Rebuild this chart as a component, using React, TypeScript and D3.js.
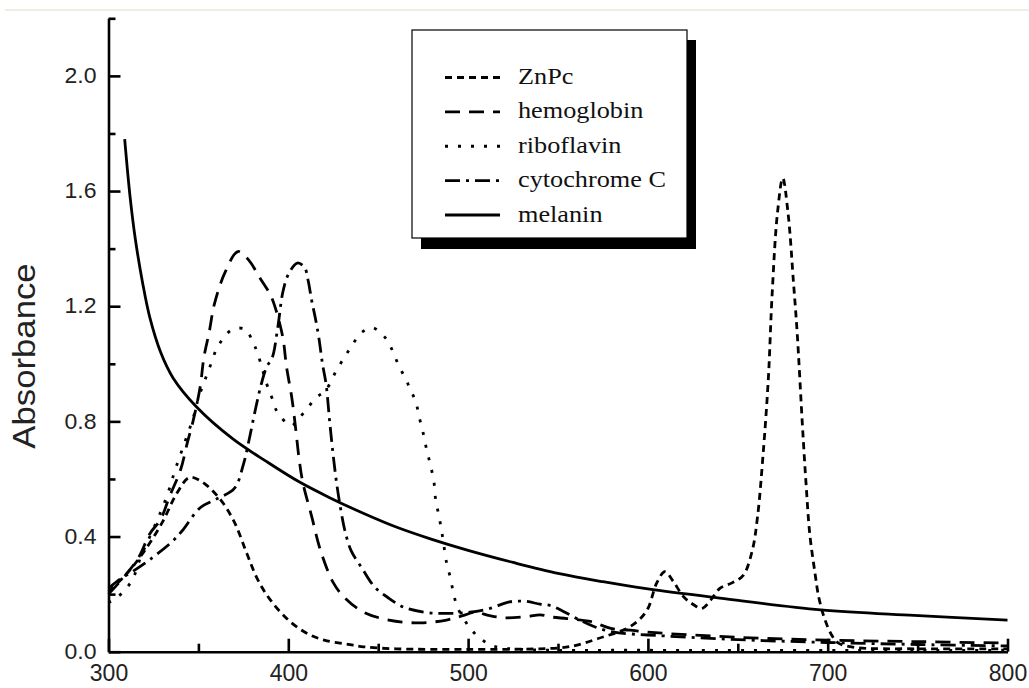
import { useEffect, useRef } from 'react';
import * as d3 from 'd3';

const W = 1029;
const H = 688;

// axis ticks
const X_TICKS = [300, 400, 500, 600, 700, 800];
const X_MINOR = [350, 450, 550, 650, 750];
const Y_TICKS = [0, 0.4, 0.8, 1.2, 1.6, 2.0];
const Y_MINOR = [0.2, 0.6, 1.0, 1.4, 1.8, 2.2];

const SERIES_NAMES = ['ZnPc', 'hemoglobin', 'riboflavin', 'cytochrome C', 'melanin'];

// ZnPc
const ZNPC_NM = [300, 310, 320, 330, 338, 345, 352, 362, 370, 377, 383, 390, 400, 410, 420, 432, 442, 460, 500, 540, 552, 560, 572, 588, 595, 600, 605, 609.5, 614, 620, 625, 630, 635, 640, 647, 653, 658, 661, 664, 667, 669, 672, 675, 678, 681, 683, 686, 688, 690, 693, 695, 698, 702, 706, 715, 750, 800];
const ZNPC_ABS = [0.21, 0.27, 0.35, 0.45, 0.55, 0.605, 0.59, 0.53, 0.45, 0.34, 0.25, 0.18, 0.11, 0.065, 0.04, 0.027, 0.017, 0.01, 0.008, 0.01, 0.014, 0.022, 0.045, 0.08, 0.11, 0.15, 0.24, 0.278, 0.245, 0.19, 0.165, 0.15, 0.18, 0.22, 0.24, 0.265, 0.35, 0.47, 0.68, 0.95, 1.23, 1.52, 1.645, 1.52, 1.28, 1.11, 0.78, 0.58, 0.41, 0.27, 0.19, 0.12, 0.06, 0.03, 0.015, 0.01, 0.01];

// hemoglobin
const HEMO_NM = [300, 310, 317, 323, 329, 334, 340, 344, 347, 351, 353, 356, 359, 365, 372, 378, 384, 390, 393, 397, 399, 402, 404, 406, 408, 413, 418, 425, 431, 442, 456, 473, 488, 497, 504, 512, 520, 533, 540, 547, 555, 568, 580, 590, 600, 650, 700, 750, 800];
const HEMO_ABS = [0.2, 0.27, 0.33, 0.41, 0.46, 0.54, 0.63, 0.73, 0.8, 0.92, 1.02, 1.11, 1.21, 1.32, 1.39, 1.36, 1.3, 1.24, 1.19, 1.09, 0.99, 0.88, 0.78, 0.67, 0.59, 0.47, 0.35, 0.24, 0.19, 0.137, 0.11, 0.1, 0.11, 0.125, 0.137, 0.125, 0.118, 0.122, 0.128, 0.12, 0.115, 0.105, 0.08, 0.075, 0.068, 0.05, 0.04, 0.035, 0.03];

// riboflavin
const RIBO_NM = [300, 305, 310, 314, 318, 323, 328, 333, 337, 342, 347, 350, 354, 357, 360, 364, 369, 376, 380, 383, 388, 391, 394, 399, 402, 405, 410, 415, 421, 427, 432, 436, 441, 447, 454, 458, 461, 465, 468, 471, 473, 475, 477, 479, 481, 482, 483.5, 485, 486.5, 488, 490, 492, 494, 498, 502, 508, 515, 530, 600, 800];
const RIBO_ABS = [0.17, 0.19, 0.22, 0.26, 0.33, 0.4, 0.47, 0.55, 0.63, 0.72, 0.81, 0.88, 0.95, 1.0, 1.05, 1.09, 1.12, 1.12, 1.08, 1.035, 0.93, 0.88, 0.83, 0.795, 0.785, 0.805, 0.84, 0.88, 0.91, 0.98, 1.03, 1.07, 1.11, 1.125, 1.09, 1.045, 1.0, 0.95, 0.91, 0.865, 0.81, 0.76, 0.7, 0.65, 0.59, 0.525, 0.48, 0.43, 0.37, 0.31, 0.26, 0.2, 0.155, 0.11, 0.075, 0.04, 0.018, 0.008, 0.005, 0.005];

// cytochrome C
const CYTO_NM = [300, 306, 315, 323, 335, 341, 351, 360, 370, 375, 378, 382, 385, 388, 391, 394, 397, 400, 405, 409, 411, 413, 415, 417, 419, 421, 423, 425, 427, 429, 431.5, 435, 441, 448, 455, 464, 476, 486, 501, 512, 523, 532, 540, 546, 553, 562, 571, 581, 590, 600, 650, 700, 750, 800];
const CYTO_ABS = [0.22, 0.25, 0.285, 0.32, 0.38, 0.42, 0.5, 0.53, 0.567, 0.65, 0.73, 0.85, 0.93, 0.99, 1.02, 1.12, 1.25, 1.31, 1.35, 1.335, 1.29, 1.22, 1.16, 1.09, 1.0, 0.93, 0.8, 0.68, 0.58, 0.5, 0.42, 0.35, 0.29, 0.225, 0.19, 0.155, 0.137, 0.133, 0.137, 0.15, 0.173, 0.175, 0.165, 0.16, 0.14, 0.11, 0.085, 0.068, 0.062, 0.058, 0.042, 0.032, 0.025, 0.02];

// melanin
const MEL_NM = [309, 312, 315, 319, 323, 329, 336, 349, 369, 388, 406, 423, 442, 460, 479, 500, 525, 550, 575, 600, 640, 696, 748, 800];
const MEL_ABS = [1.78, 1.58, 1.43, 1.28, 1.16, 1.04, 0.95, 0.85, 0.74, 0.66, 0.59, 0.535, 0.48, 0.433, 0.392, 0.352, 0.31, 0.272, 0.243, 0.218, 0.186, 0.145, 0.126, 0.11];

const DASHES: Record<string, string> = {
  'ZnPc': '7,5',
  'hemoglobin': '15,9',
  'riboflavin': '3,10',
  'cytochrome C': '15,6,3,6',
  'melanin': 'none',
};

const SANS = '"Liberation Sans", Arial, Helvetica, sans-serif';
const SERIF = '"Liberation Serif", "Times New Roman", Times, serif';

export default function App() {
  const svgRef = useRef<SVGSVGElement>(null);

  useEffect(() => {
    if (!svgRef.current) return;
    const svg = d3.select(svgRef.current);
    svg.selectAll('*').remove();

    const x = d3.scaleLinear().domain([300, 800]).range([108.5, 1007.5]);
    const y = d3.scaleLinear().domain([0, 2.2]).range([651.7, 18.3]);

    // faint page rule at the top
    svg.append('line')
      .attr('x1', 5).attr('x2', W)
      .attr('y1', 10).attr('y2', 10)
      .attr('stroke', '#efeee2')
      .attr('stroke-width', 2);

    // series
    const series = [
      { name: 'ZnPc', nm: ZNPC_NM, abs: ZNPC_ABS },
      { name: 'hemoglobin', nm: HEMO_NM, abs: HEMO_ABS },
      { name: 'riboflavin', nm: RIBO_NM, abs: RIBO_ABS },
      { name: 'cytochrome C', nm: CYTO_NM, abs: CYTO_ABS },
      { name: 'melanin', nm: MEL_NM, abs: MEL_ABS },
    ];

    const line = d3.line<[number, number]>()
      .x((d) => x(d[0]))
      .y((d) => y(d[1]))
      .curve(d3.curveCatmullRom.alpha(0.5));

    series.forEach((s) => {
      const pts: [number, number][] = s.nm.map((v, i) => [v, s.abs[i]]);
      svg.append('path')
        .attr('d', line(pts))
        .attr('fill', 'none')
        .attr('stroke', '#000')
        .attr('stroke-width', 2.8)
        .attr('stroke-dasharray', DASHES[s.name]);
    });

    // left axis
    const yAxis = svg.append('g')
      .attr('transform', `translate(${x(300)},0)`)
      .call(
        d3.axisLeft(y)
          .tickValues(Y_TICKS)
          .tickSizeInner(-12)
          .tickSizeOuter(0)
          .tickPadding(12)
          .tickFormat(d3.format('.1f'))
      );
    yAxis.select('.domain').attr('stroke-width', 2.6);
    yAxis.selectAll('line').attr('stroke-width', 2.6);
    yAxis.selectAll('text')
      .attr('font-family', SANS)
      .attr('font-size', 23)
      .attr('fill', '#222')
      .attr('transform', 'scale(1,0.92)');

    const yMinor = svg.append('g')
      .attr('transform', `translate(${x(300)},0)`)
      .call(d3.axisLeft(y).tickValues(Y_MINOR).tickSizeInner(-7).tickSizeOuter(0).tickFormat(() => ''));
    yMinor.select('.domain').remove();
    yMinor.selectAll('line').attr('stroke-width', 2.6);

    // bottom axis
    const xAxis = svg.append('g')
      .attr('transform', `translate(0,${y(0)})`)
      .call(
        d3.axisBottom(x)
          .tickValues(X_TICKS)
          .tickSizeInner(-13)
          .tickSizeOuter(0)
          .tickFormat(d3.format('d'))
      );
    xAxis.select('.domain').attr('stroke-width', 2.6);
    xAxis.selectAll('line').attr('stroke-width', 2.6);
    xAxis.selectAll('text')
      .attr('font-family', SANS)
      .attr('font-size', 23)
      .attr('fill', '#222')
      .attr('y', 29.8 / 1.08)
      .attr('dy', 0)
      .attr('transform', 'scale(1,1.08)');

    const xMinor = svg.append('g')
      .attr('transform', `translate(0,${y(0)})`)
      .call(d3.axisBottom(x).tickValues(X_MINOR).tickSizeInner(-8).tickSizeOuter(0).tickFormat(() => ''));
    xMinor.select('.domain').remove();
    xMinor.selectAll('line').attr('stroke-width', 2.6);

    // y label
    svg.append('text')
      .attr('transform', 'translate(24,356) rotate(-90) scale(1.12,1)')
      .attr('text-anchor', 'middle')
      .attr('dominant-baseline', 'central')
      .attr('font-family', SANS)
      .attr('font-size', 31)
      .attr('fill', '#222')
      .text('Absorbance');

    // legend with drop shadow
    const lg = svg.append('g');
    lg.append('rect')
      .attr('x', 421).attr('y', 40)
      .attr('width', 275).attr('height', 209)
      .attr('fill', '#000');
    lg.append('rect')
      .attr('x', 412).attr('y', 30)
      .attr('width', 275).attr('height', 208)
      .attr('fill', '#fff')
      .attr('stroke', '#000')
      .attr('stroke-width', 1.2);

    const rowY = d3.scalePoint<string>().domain(SERIES_NAMES).range([84, 221.5]);
    SERIES_NAMES.forEach((name) => {
      const by = rowY(name) ?? 0;
      lg.append('line')
        .attr('x1', 445).attr('x2', 500)
        .attr('y1', by - 6.5).attr('y2', by - 6.5)
        .attr('stroke', '#000')
        .attr('stroke-width', 2.8)
        .attr('stroke-dasharray', DASHES[name]);
      lg.append('text')
        .attr('transform', `translate(518,${by}) scale(1.05,0.93)`)
        .attr('font-family', SERIF)
        .attr('font-size', 25)
        .attr('fill', '#111')
        .text(name);
    });
  }, []);

  return (
    <svg
      ref={svgRef}
      width={W}
      height={H}
      style={{ position: 'absolute', left: 0, top: 0, background: '#fff' }}
    />
  );
}
